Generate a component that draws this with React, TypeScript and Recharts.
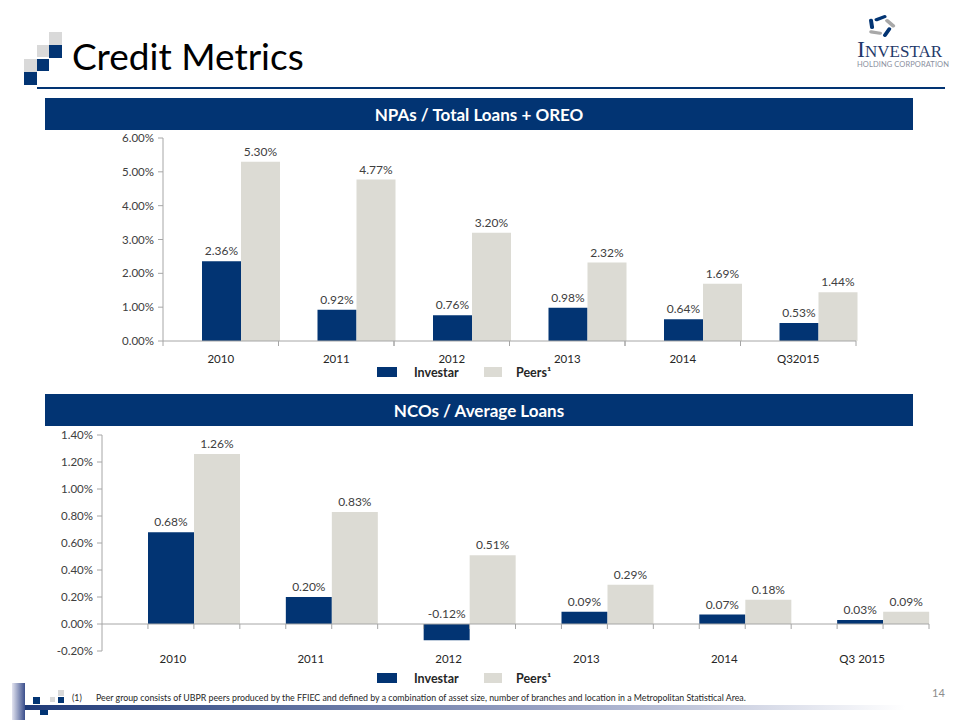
import { BarChart, Bar, XAxis, YAxis, LabelList, ReferenceLine } from 'recharts';

const npaCategories = ['2010', '2011', '2012', '2013', '2014', 'Q32015'];
const npaInvestar = [2.36, 0.92, 0.76, 0.98, 0.64, 0.53];
const npaPeers = [5.3, 4.77, 3.2, 2.32, 1.69, 1.44];
const npaTicks = [0, 1, 2, 3, 4, 5, 6];

const ncoCategories = ['2010', '2011', '2012', '2013', '2014', 'Q3 2015'];
const ncoInvestar = [0.68, 0.2, -0.12, 0.09, 0.07, 0.03];
const ncoPeers = [1.26, 0.83, 0.51, 0.29, 0.18, 0.09];
const ncoTicks = [-0.2, 0, 0.2, 0.4, 0.6, 0.8, 1.0, 1.2, 1.4];

const NAVY = '#023473';
const PEER = '#dcdbd4';
const AXIS = '#a6a6a6';
const FONT = 'Lato, "Open Sans", sans-serif';

const npaData = npaCategories.map((c, i) => ({ cat: c, investar: npaInvestar[i], peers: npaPeers[i] }));
const ncoData = ncoCategories.map((c, i) => ({ cat: c, investar: ncoInvestar[i], peers: ncoPeers[i] }));

const pct = (v: number) => `${Number(v).toFixed(2)}%`;

const valueLabel = (props: any) => {
  const vb = props.viewBox ?? props;
  const x = Number(vb.x ?? props.x);
  const y = Number(vb.y ?? props.y);
  const w = Number(vb.width ?? props.width);
  const h = Number(vb.height ?? props.height);
  const top = Math.min(y, y + h);
  return (
    <text x={x + w / 2} y={top - 6} textAnchor="middle" fontSize={12} fill="#404040" fontFamily={FONT}>
      {pct(props.value)}
    </text>
  );
};

// category label + tick marks on the category boundaries
const npaTick = (props: any) => {
  const { x, y, payload } = props;
  const half = payload.offset ?? 0;
  return (
    <g>
      <line x1={x - half} y1={y} x2={x - half} y2={y + 5} stroke={AXIS} />
      <line x1={x + half} y1={y} x2={x + half} y2={y + 5} stroke={AXIS} />
      <text x={x} y={y + 22} textAnchor="middle" fontSize={11.5} fill="#262626" fontFamily={FONT}>
        {payload.value}
      </text>
    </g>
  );
};

const ncoTick = (props: any) => {
  const { x, y, payload } = props;
  return (
    <text x={x + 2} y={y + 12} textAnchor="middle" fontSize={11.5} fill="#262626" fontFamily={FONT}>
      {payload.value}
    </text>
  );
};

// zero line of the NCO chart, with small ticks every third of a category
const zeroLine = (props: any) => {
  const { x1, y1, x2 } = props;
  const step = (x2 - x1) / (ncoCategories.length * 3);
  const marks = [];
  for (let i = 1; i <= ncoCategories.length * 3; i++) {
    marks.push(<line key={i} x1={x1 + step * i} y1={y1} x2={x1 + step * i} y2={y1 + 5} stroke={AXIS} />);
  }
  return (
    <g>
      <line x1={x1} y1={y1} x2={x2} y2={y1} stroke={AXIS} />
      {marks}
    </g>
  );
};

const Legend = ({ top }: { top: number }) => (
  <div style={{ position: 'absolute', left: 377, top, height: 12, fontFamily: FONT, fontWeight: 700, fontSize: 12.5, color: '#262626' }}>
    <div style={{ position: 'absolute', left: 0, top: 0, width: 20, height: 10, background: NAVY }} />
    <div style={{ position: 'absolute', left: 37, top: -2, whiteSpace: 'nowrap' }}>Investar</div>
    <div style={{ position: 'absolute', left: 107, top: 0, width: 18, height: 10, background: PEER }} />
    <div style={{ position: 'absolute', left: 139, top: -2, whiteSpace: 'nowrap' }}>Peers¹</div>
  </div>
);

const Banner = ({ top, text }: { top: number; text: string }) => (
  <div
    style={{
      position: 'absolute', left: 45, top, width: 868, height: 32, background: NAVY, color: '#fff',
      fontFamily: FONT, fontWeight: 700, fontSize: 17, display: 'flex', alignItems: 'center', justifyContent: 'center',
    }}
  >
    {text}
  </div>
);

const sq = (left: number, top: number, size: number, color: string) => (
  <div style={{ position: 'absolute', left, top, width: size, height: size, background: color }} />
);

const App = () => {
  return (
    <div style={{ position: 'absolute', left: 0, top: 0, width: 960, height: 720, background: '#fff', overflow: 'hidden', fontFamily: FONT }}>
      {/* header decoration */}
      {sq(49, 32, 13, '#d9d9d9')}
      {sq(37, 45, 12, '#d9d9d9')}
      {sq(49, 45, 13, NAVY)}
      {sq(24, 59, 13, '#d9d9d9')}
      {sq(37, 59, 12, NAVY)}
      {sq(24, 72, 13, NAVY)}
      <div style={{ position: 'absolute', left: 37, top: 87, width: 908, height: 2, background: NAVY }} />
      <div style={{ position: 'absolute', left: 72, top: 31, fontSize: 37, color: '#000', whiteSpace: 'nowrap', lineHeight: '50px' }}>
        Credit Metrics
      </div>

      {/* logo */}
      <svg style={{ position: 'absolute', left: 862, top: 12 }} width={38} height={28} viewBox="-19 -14 38 28">
        <g transform="scale(1 0.8)">
          {[0, 72, 144, 216, 288].map((a, i) => (
            <rect key={a} x={-7} y={-2} width={13} height={4} rx={2} fill={i % 2 ? '#a8a8a8' : NAVY} transform={`rotate(${a}) translate(0 -10) rotate(-25)`} />
          ))}
        </g>
      </svg>
      <div style={{ position: 'absolute', left: 857, top: 40, fontFamily: '"Liberation Serif", serif', color: '#1f3a6b', whiteSpace: 'nowrap', lineHeight: '18px', height: 18 }}>
        <span style={{ fontSize: 24 }}>I</span>
        <span style={{ fontSize: 17 }}>NVESTAR</span>
      </div>
      <div style={{ position: 'absolute', left: 857, top: 60, fontSize: 7.5, lineHeight: '9px', color: '#8a8f9e', whiteSpace: 'nowrap', letterSpacing: 0.1 }}>
        HOLDING CORPORATION
      </div>

      <Banner top={98} text="NPAs / Total Loans + OREO" />
      <div style={{ position: 'absolute', left: 0, top: 100 }}>
        <BarChart
          width={960}
          height={290}
          data={npaData}
          barGap={0}
          barCategoryGap={0}
          margin={{ top: 38, right: 104, left: 103, bottom: 19 }}
        >
          <XAxis
            dataKey="cat"
            axisLine={{ stroke: AXIS }}
            tickLine={false}
            tickSize={0}
            tickMargin={0}
            height={30}
            interval={0}
            tick={npaTick}
          />
          <YAxis
            domain={[0, 6]}
            ticks={npaTicks}
            width={60}
            axisLine={{ stroke: AXIS }}
            tickLine={{ stroke: AXIS }}
            tickSize={5}
            tickMargin={4}
            tickFormatter={pct}
            tick={{ fontSize: 11.5, fill: '#404040', fontFamily: FONT }}
          />
          <Bar dataKey="spacer" isAnimationActive={false} />
          <Bar dataKey="investar" fill={NAVY} isAnimationActive={false}>
            <LabelList dataKey="investar" content={valueLabel} />
          </Bar>
          <Bar dataKey="peers" fill={PEER} isAnimationActive={false}>
            <LabelList dataKey="peers" content={valueLabel} />
          </Bar>
        </BarChart>
      </div>
      <Legend top={367} />

      <Banner top={394} text="NCOs / Average Loans" />
      <div style={{ position: 'absolute', left: 0, top: 410 }}>
        <BarChart
          width={960}
          height={280}
          data={ncoData}
          barGap={0}
          barCategoryGap={0}
          margin={{ top: 25, right: 31, left: 42, bottom: 9 }}
        >
          <XAxis
            dataKey="cat"
            axisLine={false}
            tickLine={false}
            tickSize={0}
            tickMargin={0}
            height={30}
            interval={0}
            tick={ncoTick}
          />
          <YAxis
            domain={[-0.2, 1.4]}
            ticks={ncoTicks}
            width={60}
            axisLine={{ stroke: AXIS }}
            tickLine={{ stroke: AXIS }}
            tickSize={5}
            tickMargin={4}
            tickFormatter={pct}
            tick={{ fontSize: 11.5, fill: '#404040', fontFamily: FONT }}
          />
          <ReferenceLine y={0} shape={zeroLine} />
          <Bar dataKey="spacer" isAnimationActive={false} />
          <Bar dataKey="investar" fill={NAVY} isAnimationActive={false}>
            <LabelList dataKey="investar" content={valueLabel} />
          </Bar>
          <Bar dataKey="peers" fill={PEER} isAnimationActive={false}>
            <LabelList dataKey="peers" content={valueLabel} />
          </Bar>
        </BarChart>
      </div>
      <Legend top={673} />

      {/* footer */}
      <div style={{ position: 'absolute', left: 12, top: 683, width: 13, height: 37, background: 'linear-gradient(to right, #e3e4f0, #3b4f8c)' }} />
      {sq(33, 697, 7, NAVY)}
      {sq(50, 697, 5, '#d9d9d9')}
      {sq(58, 690, 6, '#d9d9d9')}
      {sq(58, 697, 6, NAVY)}
      {sq(40, 707, 8, NAVY)}
      <div style={{ position: 'absolute', left: 25, top: 705, width: 880, height: 5, background: 'linear-gradient(to right, #1f3a78, #9aa3c4 60%, #ffffff)' }} />
      <div style={{ position: 'absolute', left: 72, top: 692, fontSize: 8.8, color: '#262626', whiteSpace: 'nowrap' }}>(1)</div>
      <div style={{ position: 'absolute', left: 96, top: 692, fontSize: 8.8, color: '#262626', whiteSpace: 'nowrap' }}>
        Peer group consists of UBPR peers produced by the FFIEC and defined by a combination of asset size, number of branches and location in a Metropolitan Statistical Area.
      </div>
      <div style={{ position: 'absolute', left: 932, top: 686, fontSize: 11, color: '#8c8c8c' }}>14</div>
    </div>
  );
};

export default App;
